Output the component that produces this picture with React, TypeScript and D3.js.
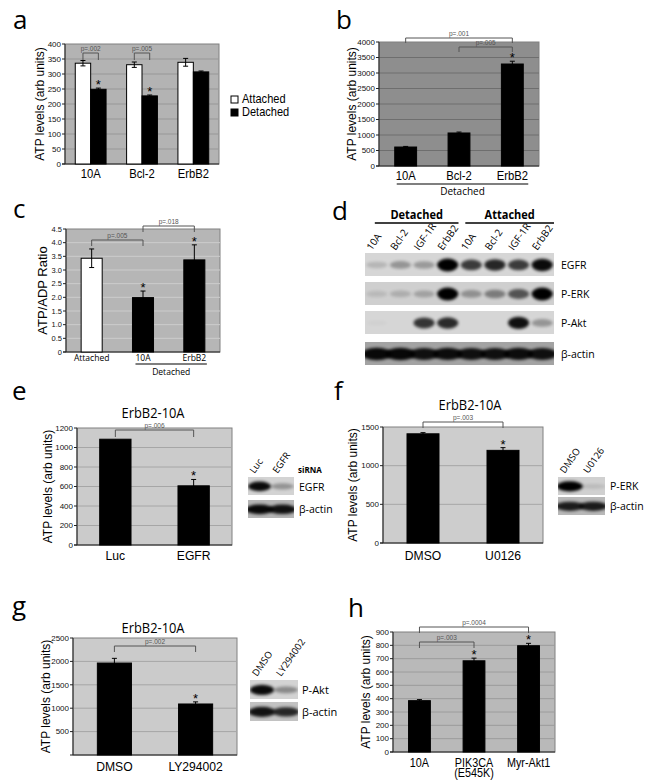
import React from "react";
import * as d3 from "d3";

const SANS = "'Liberation Sans', Arial, Helvetica, sans-serif";
const MYR = "'Open Sans', 'Noto Sans', sans-serif";

// ---------- Panel a ----------
const aCategories = ["10A", "Bcl-2", "ErbB2"];
const aSeriesNames = ["Attached", "Detached"];
const aAttached = [336, 331, 339];
const aAttachedErr = [9, 9, 13];
const aDetached = [249, 227, 307];
const aDetachedErr = [4, 3, 3];
const aAttachedStars = [false, false, false];
const aDetachedStars = [true, true, false];
const aTicks = [0, 50, 100, 150, 200, 250, 300, 350, 400];
const aPValues = ["p=.002", "p=.005"];

// ---------- Panel b ----------
const bCategories = ["10A", "Bcl-2", "ErbB2"];
const bValues = [612, 1065, 3290];
const bErr = [20, 30, 90];
const bStars = [false, false, true];
const bTicks = [0, 500, 1000, 1500, 2000, 2500, 3000, 3500, 4000];
const bPValues = ["p=.001", "p=.005"];
const bGroupLabel = "Detached";

// ---------- Panel c ----------
const cCategories = ["Attached", "10A", "ErbB2"];
const cValues = [3.43, 1.99, 3.37];
const cErr = [0.34, 0.24, 0.55];
const cStars = [false, true, true];
const cTicks = [0, 0.5, 1, 1.5, 2, 2.5, 3, 3.5, 4, 4.5];
const cPValues = ["p=.005", "p=.018"];
const cGroupLabel = "Detached";

// ---------- Panel d ----------
const dGroups = ["Detached", "Attached"];
const dLanes = ["10A", "Bcl-2", "IGF-1R", "ErbB2", "10A", "Bcl-2", "IGF-1R", "ErbB2"];
const dProteins = ["EGFR", "P-ERK", "P-Akt", "β-actin"];
const dEGFR = [0.15, 0.3, 0.28, 1, 0.72, 0.82, 0.72, 0.95];
const dPERK = [0.1, 0.16, 0.22, 1, 0.3, 0.4, 0.6, 1];
const dPAkt = [0.02, 0, 0.75, 0.8, 0, 0, 0.92, 0.3];
const dActin = [0.95, 0.95, 0.9, 0.92, 0.9, 0.9, 0.92, 0.9];

// ---------- Panel e ----------
const eTitle = "ErbB2-10A";
const eCategories = ["Luc", "EGFR"];
const eValues = [1085, 607];
const eErr = [0, 65];
const eStars = [false, true];
const eTicks = [0, 200, 400, 600, 800, 1000, 1200];
const ePValues = ["p=.006"];
const eLanes = ["Luc", "EGFR"];
const eBlotTag = "siRNA";
const eProteins = ["EGFR", "β-actin"];
const eEGFR = [0.95, 0.3];
const eActin = [0.95, 0.9];

// ---------- Panel f ----------
const fTitle = "ErbB2-10A";
const fCategories = ["DMSO", "U0126"];
const fValues = [1412, 1198];
const fErr = [15, 35];
const fStars = [false, true];
const fTicks = [0, 500, 1000, 1500];
const fPValues = ["p=.003"];
const fLanes = ["DMSO", "U0126"];
const fProteins = ["P-ERK", "β-actin"];
const fPERK = [1, 0.1];
const fActin = [0.85, 0.85];

// ---------- Panel g ----------
const gTitle = "ErbB2-10A";
const gCategories = ["DMSO", "LY294002"];
const gValues = [1965, 1090];
const gErr = [100, 45];
const gStars = [false, true];
const gTicks = [500, 1000, 1500, 2000, 2500];
const gPValues = ["p=.002"];
const gLanes = ["DMSO", "LY294002"];
const gProteins = ["P-Akt", "β-actin"];
const gPAkt = [0.95, 0.35];
const gActin = [0.9, 0.8];

// ---------- Panel h ----------
const hCategories = ["10A", "PIK3CA (E545K)", "Myr-Akt1"];
const hCategoryLines = [["10A"], ["PIK3CA", "(E545K)"], ["Myr-Akt1"]];
const hValues = [385, 684, 797];
const hErr = [8, 20, 18];
const hStars = [false, true, true];
const hTicks = [0, 100, 200, 300, 400, 500, 600, 700, 800, 900];
const hPValues = ["p=.003", "p=.0004"];

const YLABEL = "ATP levels (arb units)";

type Series = { values: number[]; errs: number[]; stars: boolean[]; fills: string[] };
type Bracket = { a: [number, number]; b: [number, number]; label: string; top: number };

function T(props: {
  x: number; y: number; size: number; font?: string; anchor?: string; sx?: number;
  weight?: string | number; fill?: string; rotate?: number; children: React.ReactNode;
}) {
  const { x, y, size, font = SANS, anchor = "middle", sx = 1, weight = "normal", fill = "#000", rotate = 0 } = props;
  return (
    <text
      transform={`translate(${x},${y}) rotate(${rotate}) scale(${sx},1)`}
      fontFamily={font}
      fontSize={size}
      textAnchor={anchor}
      fontWeight={weight}
      fill={fill}
    >
      {props.children}
    </text>
  );
}

function BarPanel(p: {
  x0: number; x1: number; y0: number; y1: number;
  yMax: number; ticks: number[]; fmt?: (v: number) => string; tickSize?: number;
  categories: string[]; series: Series[];
  pInner: number; pOuter: number;
  bg: string; grid: string;
  brackets: Bracket[]; legLen?: number;
  yLabel: string; yLabelX: number; yLabelSize?: number;
  catLines: string[][]; catY: number; catSize: number; catFont?: string; catSx?: number; catLineH?: number;
  extra?: (x: d3.ScaleBand<string>, y: d3.ScaleLinear<number, number>) => React.ReactNode;
}) {
  const x = d3.scaleBand<string>().domain(p.categories).range([p.x0, p.x1]).paddingInner(p.pInner).paddingOuter(p.pOuter);
  const sub = d3.scaleBand<string>().domain(p.series.map((_, i) => String(i))).range([0, x.bandwidth()]);
  const y = d3.scaleLinear().domain([0, p.yMax]).range([p.y1, p.y0]);
  const fmt = p.fmt || ((v: number) => String(v));
  const legLen = p.legLen ?? 6;
  const cx = (ci: number, si: number) => (x(p.categories[ci]) as number) + (sub(String(si)) as number) + sub.bandwidth() / 2;
  const ts = p.tickSize ?? 8;
  return (
    <g>
      <rect x={p.x0} y={p.y0} width={p.x1 - p.x0} height={p.y1 - p.y0} fill={p.bg} stroke="#808080" strokeWidth={1} />
      {p.ticks.filter((t) => t > 0 && t < p.yMax).map((t) => (
        <line key={"g" + t} x1={p.x0} x2={p.x1} y1={y(t)} y2={y(t)} stroke={p.grid} strokeWidth={1} />
      ))}
      <line x1={p.x0} x2={p.x0} y1={p.y0} y2={p.y1} stroke="#222" strokeWidth={1} />
      <line x1={p.x0 - 3} x2={p.x1} y1={p.y1} y2={p.y1} stroke="#222" strokeWidth={1} />
      {p.ticks.map((t) => (
        <g key={"t" + t}>
          <line x1={p.x0 - 3} x2={p.x0} y1={y(t)} y2={y(t)} stroke="#222" />
          <text x={p.x0 - 4} y={y(t) + ts * 0.35} fontFamily={SANS} fontSize={ts} textAnchor="end" fill="#111">
            {fmt(t)}
          </text>
        </g>
      ))}
      {p.series.map((s, si) =>
        s.values.map((v, ci) => {
          const bx = (x(p.categories[ci]) as number) + (sub(String(si)) as number);
          const bw = sub.bandwidth();
          const c = bx + bw / 2;
          const e = s.errs[ci];
          return (
            <g key={`b${si}-${ci}`}>
              <rect x={bx} y={y(v)} width={bw} height={p.y1 - y(v)} fill={s.fills[ci]} stroke="#000" strokeWidth={1} />
              {e > 0 && (
                <g stroke="#000" strokeWidth={1}>
                  <line x1={c} x2={c} y1={y(v + e)} y2={y(Math.max(0, v - e))} />
                  <line x1={c - 2.5} x2={c + 2.5} y1={y(v + e)} y2={y(v + e)} />
                  <line x1={c - 2.5} x2={c + 2.5} y1={y(v - e)} y2={y(v - e)} />
                </g>
              )}
              {s.stars[ci] && (
                <text x={c} y={y(v + e) + 1} fontFamily={SANS} fontSize={13} textAnchor="middle" fill="#000">
                  *
                </text>
              )}
            </g>
          );
        })
      )}
      {p.brackets.map((b, i) => {
        const xa = cx(b.a[0], b.a[1]);
        const xb = cx(b.b[0], b.b[1]);
        const top = p.y0 + b.top;
        return (
          <g key={"br" + i}>
            <path d={`M${xa},${top + legLen}V${top}H${xb}V${top + legLen}`} fill="none" stroke="#555" strokeWidth={1} />
            <text x={(xa + xb) / 2} y={top - 2} fontFamily={SANS} fontSize={6.5} textAnchor="middle" fill="#555">
              {b.label}
            </text>
          </g>
        );
      })}
      <T x={p.yLabelX} y={(p.y0 + p.y1) / 2} size={p.yLabelSize ?? 12} rotate={-90}>
        {p.yLabel}
      </T>
      {p.catLines.map((lines, ci) =>
        lines.map((ln, li) => (
          <T key={`c${ci}-${li}`} x={cx(ci, 0) + (p.series.length > 1 ? sub.bandwidth() / 2 : 0)} y={p.catY + li * (p.catLineH ?? 10)}
            size={p.catSize} font={p.catFont ?? SANS} sx={p.catSx ?? 0.9}>
            {ln}
          </T>
        ))
      )}
      {p.extra && p.extra(x, y)}
    </g>
  );
}

function Blot(p: { id: string; x0: number; x1: number; y0: number; y1: number; bands: number[]; bg: string; spread?: number }) {
  const lanes = d3.scaleBand<string>().domain(p.bands.map((_, i) => String(i))).range([p.x0, p.x1]);
  const h = p.y1 - p.y0;
  const spread = p.spread ?? 0.44;
  return (
    <g>
      <clipPath id={"clip-" + p.id}>
        <rect x={p.x0} y={p.y0} width={p.x1 - p.x0} height={h} />
      </clipPath>
      <rect x={p.x0} y={p.y0} width={p.x1 - p.x0} height={h} fill={p.bg} />
      <g clipPath={`url(#clip-${p.id})`}>
        {p.bands.map((v, i) =>
          v > 0 ? (
            <ellipse key={i} cx={(lanes(String(i)) as number) + lanes.bandwidth() / 2} cy={p.y0 + h * 0.52}
              rx={lanes.bandwidth() * spread} ry={h * (0.12 + 0.16 * v)} fill="#000" opacity={Math.min(1, v)} filter="url(#blotblur)" />
          ) : null
        )}
      </g>
    </g>
  );
}

function Letter({ x, y, ch }: { x: number; y: number; ch: string }) {
  return (
    <text x={x} y={y} fontFamily={MYR} fontSize={26} fill="#000">
      {ch}
    </text>
  );
}

export default function App() {
  const white = "#ffffff";
  const black = "#000000";

  const dX = d3.scaleBand<string>().domain(dLanes.map((_, i) => String(i))).range([365, 554]);
  const laneCenter = (s: d3.ScaleBand<string>, i: number) => (s(String(i)) as number) + s.bandwidth() / 2;
  const eX = d3.scaleBand<string>().domain(eLanes).range([248, 294]);
  const fX = d3.scaleBand<string>().domain(fLanes).range([558, 605]);
  const gX = d3.scaleBand<string>().domain(gLanes).range([250, 298]);

  return (
    <div style={{ position: "absolute", left: 0, top: 0 }}>
      <svg width={650} height={784} viewBox="0 0 650 784" style={{ display: "block", background: "#fff" }}>
        <defs>
          <filter id="blotblur" x="-60%" y="-100%" width="220%" height="300%">
            <feGaussianBlur stdDeviation="1.8" />
          </filter>
        </defs>

        {/* ---------- a ---------- */}
        <Letter x={13} y={29} ch="a" />
        <BarPanel
          x0={65} x1={219} y0={44} y1={164} yMax={400} ticks={aTicks}
          categories={aCategories}
          series={[
            { values: aAttached, errs: aAttachedErr, stars: aAttachedStars, fills: aAttached.map(() => white) },
            { values: aDetached, errs: aDetachedErr, stars: aDetachedStars, fills: aDetached.map(() => black) },
          ]}
          pInner={0.4} pOuter={0.2} bg="#b3b3b3" grid="#979797"
          brackets={[
            { a: [0, 0], b: [0, 1], label: aPValues[0], top: 9 },
            { a: [1, 0], b: [1, 1], label: aPValues[1], top: 9 },
          ]}
          legLen={7}
          yLabel={YLABEL} yLabelX={44} catLines={aCategories.map((c) => [c])} catY={178} catSize={12.5}
        />
        <rect x={231} y={96} width={7} height={7} fill="#fff" stroke="#000" />
        <T x={242} y={103} size={12} anchor="start" sx={0.92}>{aSeriesNames[0]}</T>
        <rect x={231} y={109} width={7} height={7} fill="#000" stroke="#000" />
        <T x={242} y={116} size={12} anchor="start" sx={0.92}>{aSeriesNames[1]}</T>

        {/* ---------- b ---------- */}
        <Letter x={336} y={29} ch="b" />
        <BarPanel
          x0={379} x1={539} y0={42} y1={166} yMax={4000} ticks={bTicks}
          categories={bCategories}
          series={[{ values: bValues, errs: bErr, stars: bStars, fills: bValues.map(() => black) }]}
          pInner={0.59} pOuter={0.295} bg="#8e8e8e" grid="#6e6e6e"
          brackets={[
            { a: [0, 0], b: [2, 0], label: bPValues[0], top: -4 },
            { a: [1, 0], b: [2, 0], label: bPValues[1], top: 5 },
          ]}
          legLen={5}
          yLabel={YLABEL} yLabelX={356} catLines={bCategories.map((c) => [c])} catY={180} catSize={12.5}
          extra={(x) => {
            const xs = (x(bCategories[0]) as number) + 2;
            const xe = (x(bCategories[2]) as number) + x.bandwidth() + 5;
            return (
              <g>
                <line x1={xs} x2={xe} y1={184} y2={184} stroke="#000" strokeWidth={1.2} />
                <T x={(xs + xe) / 2} y={195} size={10} font={MYR}>{bGroupLabel}</T>
              </g>
            );
          }}
        />

        {/* ---------- c ---------- */}
        <Letter x={13} y={218} ch="c" />
        <BarPanel
          x0={66} x1={220} y0={229} y1={352} yMax={4.5} ticks={cTicks}
          fmt={(v) => (v === 0 ? "0" : d3.format(".1f")(v))} tickSize={7.5}
          categories={cCategories}
          series={[{ values: cValues, errs: cErr, stars: cStars, fills: cValues.map((_, i) => (i === 0 ? white : black)) }]}
          pInner={0.59} pOuter={0.295} bg="#b6b6b6" grid="#cccccc"
          brackets={[
            { a: [0, 0], b: [1, 0], label: cPValues[0], top: 11 },
            { a: [1, 0], b: [2, 0], label: cPValues[1], top: -3 },
          ]}
          legLen={6}
          yLabel="ATP/ADP Ratio" yLabelX={47} yLabelSize={13}
          catLines={cCategories.map((c) => [c])} catY={361} catSize={9.5} catFont={MYR} catSx={0.9}
          extra={(x) => {
            const xs = (x(cCategories[1]) as number) + 3;
            const xe = (x(cCategories[2]) as number) + x.bandwidth() + 2;
            return (
              <g>
                <line x1={xs} x2={xe} y1={364} y2={364} stroke="#000" strokeWidth={1.2} />
                <T x={(xs + xe) / 2} y={375} size={9.5} font={MYR} sx={0.9}>{cGroupLabel}</T>
              </g>
            );
          }}
        />

        {/* ---------- d ---------- */}
        <Letter x={332} y={220} ch="d" />
        {dGroups.map((gname, gi) => {
          const xs = laneCenter(dX, gi * 4) - 2 - (gi === 0 ? 0 : 4);
          const xe = laneCenter(dX, gi * 4 + 3) + dX.bandwidth() / 2 + (gi === 0 ? -1 : 0);
          return (
            <g key={gname}>
              <T x={(xs + xe) / 2} y={219} size={12} font={MYR} weight={700} sx={0.92}>{gname}</T>
              <line x1={xs} x2={xe} y1={223} y2={223} stroke="#000" strokeWidth={1.3} />
            </g>
          );
        })}
        {dLanes.map((ln, i) => (
          <T key={"dl" + i} x={laneCenter(dX, i) - 5} y={251} size={10} font={MYR} anchor="start" rotate={-55}>{ln}</T>
        ))}
        {[dEGFR, dPERK, dPAkt, dActin].map((bands, ri) => {
          const tops = [253, 282, 311, 342];
          const y0 = tops[ri];
          const y1 = y0 + 23;
          const bg = ri === 3 ? "#a3a3a3" : ri === 1 ? "#cfcfcf" : "#d6d6d6";
          return (
            <g key={"dr" + ri}>
              <Blot id={"d" + ri} x0={365} x1={554} y0={y0} y1={y1} bands={bands} bg={bg} spread={ri === 3 ? 0.62 : 0.45} />
              <T x={561} y={(y0 + y1) / 2 + 4} size={10.5} font={MYR} anchor="start">{dProteins[ri]}</T>
            </g>
          );
        })}

        {/* ---------- e ---------- */}
        <Letter x={12} y={400} ch="e" />
        <T x={153} y={418} size={14} font={MYR} sx={0.92}>{eTitle}</T>
        <BarPanel
          x0={77} x1={232} y0={428} y1={545} yMax={1200} ticks={eTicks}
          categories={eCategories}
          series={[{ values: eValues, errs: eErr, stars: eStars, fills: eValues.map(() => black) }]}
          pInner={0.6} pOuter={0.29} bg="#cbcbcb" grid="#a6a6a6"
          brackets={[{ a: [0, 0], b: [1, 0], label: ePValues[0], top: 2 }]}
          legLen={7}
          yLabel={YLABEL} yLabelX={52} catLines={eCategories.map((c) => [c])} catY={560} catSize={13.5}
        />
        {eLanes.map((ln, i) => (
          <T key={"el" + i} x={(eX(ln) as number) + eX.bandwidth() / 2 - 5} y={474} size={9.5} font={MYR} anchor="start" rotate={-55}>{ln}</T>
        ))}
        <T x={298} y={473} size={8} font={MYR} anchor="start" weight={700}>{eBlotTag}</T>
        <Blot id="e0" x0={248} x1={294} y0={477} y1={495} bands={eEGFR} bg="#d3d3d3" spread={0.5} />
        <Blot id="e1" x0={248} x1={294} y0={500} y1={518} bands={eActin} bg="#b5b5b5" spread={0.6} />
        <T x={299} y={491} size={10.5} font={MYR} anchor="start">{eProteins[0]}</T>
        <T x={299} y={513} size={10.5} font={MYR} anchor="start">{eProteins[1]}</T>

        {/* ---------- f ---------- */}
        <Letter x={334} y={400} ch="f" />
        <T x={470} y={410} size={14} font={MYR} sx={0.92}>{fTitle}</T>
        <BarPanel
          x0={383} x1={543} y0={427} y1={543} yMax={1500} ticks={fTicks}
          categories={fCategories}
          series={[{ values: fValues, errs: fErr, stars: fStars, fills: fValues.map(() => black) }]}
          pInner={0.6} pOuter={0.3} bg="#cdcdcd" grid="#a6a6a6"
          brackets={[{ a: [0, 0], b: [1, 0], label: fPValues[0], top: -5 }]}
          legLen={6}
          yLabel={YLABEL} yLabelX={357} catLines={fCategories.map((c) => [c])} catY={560} catSize={13.5}
        />
        {fLanes.map((ln, i) => (
          <T key={"fl" + i} x={(fX(ln) as number) + fX.bandwidth() / 2 - 5} y={474} size={9.5} font={MYR} anchor="start" rotate={-55}>{ln}</T>
        ))}
        <Blot id="f0" x0={558} x1={605} y0={477} y1={495} bands={fPERK} bg="#d0d0d0" spread={0.55} />
        <Blot id="f1" x0={558} x1={605} y0={497} y1={515} bands={fActin} bg="#b8b8b8" spread={0.6} />
        <T x={610} y={490} size={10.5} font={MYR} anchor="start">{fProteins[0]}</T>
        <T x={610} y={510} size={10.5} font={MYR} anchor="start">{fProteins[1]}</T>

        {/* ---------- g ---------- */}
        <Letter x={12} y={615} ch="g" />
        <T x={153} y={633} size={14} font={MYR} sx={0.92}>{gTitle}</T>
        <BarPanel
          x0={73} x1={237} y0={638} y1={755} yMax={2500} ticks={gTicks}
          categories={gCategories}
          series={[{ values: gValues, errs: gErr, stars: gStars, fills: gValues.map(() => black) }]}
          pInner={0.58} pOuter={0.3} bg="#cbcbcb" grid="#a6a6a6"
          brackets={[{ a: [0, 0], b: [1, 0], label: gPValues[0], top: 8 }]}
          legLen={6}
          yLabel={YLABEL} yLabelX={50} catLines={gCategories.map((c) => [c])} catY={771} catSize={13.5}
        />
        {gLanes.map((ln, i) => (
          <T key={"gl" + i} x={(gX(ln) as number) + gX.bandwidth() / 2 - 5} y={677} size={9.5} font={MYR} anchor="start" rotate={-55}>{ln}</T>
        ))}
        <Blot id="g0" x0={250} x1={298} y0={680} y1={699} bands={gPAkt} bg="#d3d3d3" spread={0.5} />
        <Blot id="g1" x0={250} x1={298} y0={702} y1={721} bands={gActin} bg="#c2c2c2" spread={0.55} />
        <T x={302} y={694} size={11} font={MYR} anchor="start">{gProteins[0]}</T>
        <T x={302} y={716} size={11} font={MYR} anchor="start">{gProteins[1]}</T>

        {/* ---------- h ---------- */}
        <Letter x={348} y={617} ch="h" />
        <BarPanel
          x0={393} x1={555} y0={632} y1={752} yMax={900} ticks={hTicks}
          categories={hCategories}
          series={[{ values: hValues, errs: hErr, stars: hStars, fills: hValues.map(() => black) }]}
          pInner={0.6} pOuter={0.285} bg="#b9b9b9" grid="#9c9c9c"
          brackets={[
            { a: [0, 0], b: [2, 0], label: hPValues[1], top: -5 },
            { a: [0, 0], b: [1, 0], label: hPValues[0], top: 10 },
          ]}
          legLen={6}
          yLabel={YLABEL} yLabelX={370} catLines={hCategoryLines} catY={767} catSize={12} catLineH={10}
        />
      </svg>
    </div>
  );
}
